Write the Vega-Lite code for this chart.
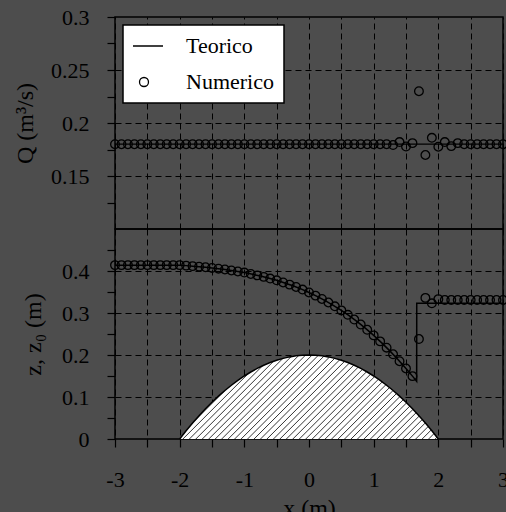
{
  "$schema": "https://vega.github.io/schema/vega-lite/v6.json",
  "background": "#4d4d4d",
  "padding": {"left": 12, "top": 5, "right": 0, "bottom": 0},
  "spacing": 0,
  "bounds": "flush",
  "config": {
    "font": "Liberation Serif",
    "view": {"stroke": "black", "strokeWidth": 1.5},
    "axis": {
      "domain": false,
      "tickColor": "black",
      "tickSize": 8,
      "tickWidth": 1.2,
      "labelColor": "black",
      "labelFont": "Liberation Serif",
      "labelFontSize": 22,
      "labelPadding": 18,
      "labelFlush": false,
      "labelOverlap": false,
      "titleColor": "black",
      "titleFont": "Liberation Serif",
      "titleFontSize": 24,
      "titleFontWeight": "normal",
      "gridColor": "black",
      "gridDash": [6, 4],
      "gridWidth": 1
    }
  },
  "datasets": {
    "qTeo": [{"x": -3, "q": 0.18}, {"x": 3, "q": 0.18}],
    "qNum": [
      {"x": -3.0, "q": 0.18}, {"x": -2.9, "q": 0.18}, {"x": -2.8, "q": 0.18}, {"x": -2.7, "q": 0.18}, {"x": -2.6, "q": 0.18},
      {"x": -2.5, "q": 0.18}, {"x": -2.4, "q": 0.18}, {"x": -2.3, "q": 0.18}, {"x": -2.2, "q": 0.18}, {"x": -2.1, "q": 0.18},
      {"x": -2.0, "q": 0.18}, {"x": -1.9, "q": 0.18}, {"x": -1.8, "q": 0.18}, {"x": -1.7, "q": 0.18}, {"x": -1.6, "q": 0.18},
      {"x": -1.5, "q": 0.18}, {"x": -1.4, "q": 0.18}, {"x": -1.3, "q": 0.18}, {"x": -1.2, "q": 0.18}, {"x": -1.1, "q": 0.18},
      {"x": -1.0, "q": 0.18}, {"x": -0.9, "q": 0.18}, {"x": -0.8, "q": 0.18}, {"x": -0.7, "q": 0.18}, {"x": -0.6, "q": 0.18},
      {"x": -0.5, "q": 0.18}, {"x": -0.4, "q": 0.18}, {"x": -0.3, "q": 0.18}, {"x": -0.2, "q": 0.18}, {"x": -0.1, "q": 0.18},
      {"x": 0.0, "q": 0.18}, {"x": 0.1, "q": 0.18}, {"x": 0.2, "q": 0.18}, {"x": 0.3, "q": 0.18}, {"x": 0.4, "q": 0.18},
      {"x": 0.5, "q": 0.18}, {"x": 0.6, "q": 0.18}, {"x": 0.7, "q": 0.18}, {"x": 0.8, "q": 0.18}, {"x": 0.9, "q": 0.18},
      {"x": 1.0, "q": 0.18}, {"x": 1.1, "q": 0.18}, {"x": 1.2, "q": 0.18}, {"x": 1.3, "q": 0.1792}, {"x": 1.4, "q": 0.182},
      {"x": 1.5, "q": 0.1778}, {"x": 1.6, "q": 0.181}, {"x": 1.7, "q": 0.230}, {"x": 1.8, "q": 0.1698}, {"x": 1.9, "q": 0.186},
      {"x": 2.0, "q": 0.1776}, {"x": 2.1, "q": 0.182}, {"x": 2.2, "q": 0.1782}, {"x": 2.3, "q": 0.181}, {"x": 2.4, "q": 0.18},
      {"x": 2.5, "q": 0.18}, {"x": 2.6, "q": 0.18}, {"x": 2.7, "q": 0.18}, {"x": 2.8, "q": 0.18}, {"x": 2.9, "q": 0.18},
      {"x": 3.0, "q": 0.18}
    ],
    "bed": [
      {"x": -2.0, "z": 0}, {"x": -1.9, "z": 0.0195}, {"x": -1.8, "z": 0.038}, {"x": -1.7, "z": 0.0555}, {"x": -1.6, "z": 0.072},
      {"x": -1.5, "z": 0.0875}, {"x": -1.4, "z": 0.102}, {"x": -1.3, "z": 0.1155}, {"x": -1.2, "z": 0.128}, {"x": -1.1, "z": 0.1395},
      {"x": -1.0, "z": 0.15}, {"x": -0.9, "z": 0.1595}, {"x": -0.8, "z": 0.168}, {"x": -0.7, "z": 0.1755}, {"x": -0.6, "z": 0.182},
      {"x": -0.5, "z": 0.1875}, {"x": -0.4, "z": 0.192}, {"x": -0.3, "z": 0.1955}, {"x": -0.2, "z": 0.198}, {"x": -0.1, "z": 0.1995},
      {"x": 0.0, "z": 0.2},
      {"x": 0.1, "z": 0.1995}, {"x": 0.2, "z": 0.198}, {"x": 0.3, "z": 0.1955}, {"x": 0.4, "z": 0.192}, {"x": 0.5, "z": 0.1875},
      {"x": 0.6, "z": 0.182}, {"x": 0.7, "z": 0.1755}, {"x": 0.8, "z": 0.168}, {"x": 0.9, "z": 0.1595}, {"x": 1.0, "z": 0.15},
      {"x": 1.1, "z": 0.1395}, {"x": 1.2, "z": 0.128}, {"x": 1.3, "z": 0.1155}, {"x": 1.4, "z": 0.102}, {"x": 1.5, "z": 0.0875},
      {"x": 1.6, "z": 0.072}, {"x": 1.7, "z": 0.0555}, {"x": 1.8, "z": 0.038}, {"x": 1.9, "z": 0.0195}, {"x": 2.0, "z": 0}
    ],
    "hatch": [
      {"x": -1.78, "z": 0.0416, "xe": -1.30, "ze": 0.1155},
      {"x": -1.95, "z": 0, "xe": -0.9354, "ze": 0.1563},
      {"x": -1.85, "z": 0, "xe": -0.7193, "ze": 0.1741},
      {"x": -1.75, "z": 0, "xe": -0.5492, "ze": 0.1849},
      {"x": -1.65, "z": 0, "xe": -0.4044, "ze": 0.1918},
      {"x": -1.55, "z": 0, "xe": -0.2760, "ze": 0.1962},
      {"x": -1.45, "z": 0, "xe": -0.1596, "ze": 0.1987},
      {"x": -1.35, "z": 0, "xe": -0.0522, "ze": 0.1999},
      {"x": -1.25, "z": 0, "xe": 0.0480, "ze": 0.1999},
      {"x": -1.15, "z": 0, "xe": 0.1421, "ze": 0.1990},
      {"x": -1.05, "z": 0, "xe": 0.2313, "ze": 0.1973},
      {"x": -0.95, "z": 0, "xe": 0.3162, "ze": 0.1950},
      {"x": -0.85, "z": 0, "xe": 0.3974, "ze": 0.1921},
      {"x": -0.75, "z": 0, "xe": 0.4753, "ze": 0.1887},
      {"x": -0.65, "z": 0, "xe": 0.5504, "ze": 0.1849},
      {"x": -0.55, "z": 0, "xe": 0.6228, "ze": 0.1806},
      {"x": -0.45, "z": 0, "xe": 0.6929, "ze": 0.1760},
      {"x": -0.35, "z": 0, "xe": 0.7608, "ze": 0.1711},
      {"x": -0.25, "z": 0, "xe": 0.8268, "ze": 0.1658},
      {"x": -0.15, "z": 0, "xe": 0.8910, "ze": 0.1603},
      {"x": -0.05, "z": 0, "xe": 0.9535, "ze": 0.1545},
      {"x": 0.05, "z": 0, "xe": 1.0145, "ze": 0.1485},
      {"x": 0.15, "z": 0, "xe": 1.0741, "ze": 0.1423},
      {"x": 0.25, "z": 0, "xe": 1.1324, "ze": 0.1359},
      {"x": 0.35, "z": 0, "xe": 1.1894, "ze": 0.1293},
      {"x": 0.45, "z": 0, "xe": 1.2452, "ze": 0.1225},
      {"x": 0.55, "z": 0, "xe": 1.3000, "ze": 0.1155},
      {"x": 0.65, "z": 0, "xe": 1.3537, "ze": 0.1084},
      {"x": 0.75, "z": 0, "xe": 1.4064, "ze": 0.1011},
      {"x": 0.85, "z": 0, "xe": 1.4583, "ze": 0.0937},
      {"x": 0.95, "z": 0, "xe": 1.5092, "ze": 0.0861},
      {"x": 1.05, "z": 0, "xe": 1.5593, "ze": 0.0784},
      {"x": 1.15, "z": 0, "xe": 1.6086, "ze": 0.0706},
      {"x": 1.25, "z": 0, "xe": 1.6571, "ze": 0.0627},
      {"x": 1.35, "z": 0, "xe": 1.7049, "ze": 0.0547},
      {"x": 1.45, "z": 0, "xe": 1.7521, "ze": 0.0465},
      {"x": 1.55, "z": 0, "xe": 1.7985, "ze": 0.0383},
      {"x": 1.65, "z": 0, "xe": 1.8443, "ze": 0.0299},
      {"x": 1.75, "z": 0, "xe": 1.8895, "ze": 0.0215},
      {"x": 1.85, "z": 0, "xe": 1.9341, "ze": 0.0130},
      {"x": 1.95, "z": 0, "xe": 1.9782, "ze": 0.0043}
    ],
    "zTeo": [
      {"x": -3.0, "z": 0.4138}, {"x": -2.0, "z": 0.4138}, {"x": -1.9, "z": 0.4128}, {"x": -1.8, "z": 0.4116},
      {"x": -1.7, "z": 0.4103}, {"x": -1.6, "z": 0.4089}, {"x": -1.5, "z": 0.4073}, {"x": -1.4, "z": 0.4055},
      {"x": -1.3, "z": 0.4036}, {"x": -1.2, "z": 0.4013}, {"x": -1.1, "z": 0.3988}, {"x": -1.0, "z": 0.3962},
      {"x": -0.75, "z": 0.3880}, {"x": -0.5, "z": 0.3778}, {"x": -0.25, "z": 0.3650}, {"x": -0.125, "z": 0.3575},
      {"x": 0.0, "z": 0.3489}, {"x": 0.125, "z": 0.3395}, {"x": 0.25, "z": 0.3294}, {"x": 0.375, "z": 0.3183},
      {"x": 0.5, "z": 0.3062}, {"x": 0.625, "z": 0.2930}, {"x": 0.75, "z": 0.2787}, {"x": 0.875, "z": 0.2633},
      {"x": 1.0, "z": 0.2467}, {"x": 1.125, "z": 0.2288}, {"x": 1.25, "z": 0.2098}, {"x": 1.375, "z": 0.1895},
      {"x": 1.5, "z": 0.1679}, {"x": 1.6, "z": 0.1497}, {"x": 1.665, "z": 0.1374}, {"x": 1.666, "z": 0.323},
      {"x": 3.0, "z": 0.323}
    ],
    "zNum": [
      {"x": -3.0, "z": 0.414}, {"x": -2.9, "z": 0.414}, {"x": -2.8, "z": 0.414}, {"x": -2.7, "z": 0.414}, {"x": -2.6, "z": 0.414},
      {"x": -2.5, "z": 0.414}, {"x": -2.4, "z": 0.414}, {"x": -2.3, "z": 0.414}, {"x": -2.2, "z": 0.414}, {"x": -2.1, "z": 0.414},
      {"x": -2.0, "z": 0.414}, {"x": -1.9, "z": 0.4128}, {"x": -1.8, "z": 0.4116}, {"x": -1.7, "z": 0.4103}, {"x": -1.6, "z": 0.4089},
      {"x": -1.5, "z": 0.4073}, {"x": -1.4, "z": 0.4055}, {"x": -1.3, "z": 0.4036}, {"x": -1.2, "z": 0.4013}, {"x": -1.1, "z": 0.3988},
      {"x": -1.0, "z": 0.3962}, {"x": -0.9, "z": 0.3929}, {"x": -0.8, "z": 0.3896}, {"x": -0.7, "z": 0.3860}, {"x": -0.6, "z": 0.3819},
      {"x": -0.5, "z": 0.3778}, {"x": -0.4, "z": 0.3727}, {"x": -0.3, "z": 0.3676}, {"x": -0.2, "z": 0.3620}, {"x": -0.1, "z": 0.3558},
      {"x": 0.0, "z": 0.3489}, {"x": 0.1, "z": 0.3414}, {"x": 0.2, "z": 0.3334}, {"x": 0.3, "z": 0.3250}, {"x": 0.4, "z": 0.3159},
      {"x": 0.5, "z": 0.3062}, {"x": 0.6, "z": 0.2956}, {"x": 0.7, "z": 0.2844}, {"x": 0.8, "z": 0.2725}, {"x": 0.9, "z": 0.2600},
      {"x": 1.0, "z": 0.2467}, {"x": 1.1, "z": 0.2324}, {"x": 1.2, "z": 0.2174}, {"x": 1.3, "z": 0.2017}, {"x": 1.4, "z": 0.1852},
      {"x": 1.5, "z": 0.1679}, {"x": 1.6, "z": 0.1497}, {"x": 1.7, "z": 0.238}, {"x": 1.8, "z": 0.336}, {"x": 1.9, "z": 0.323},
      {"x": 2.0, "z": 0.333}, {"x": 2.1, "z": 0.331}, {"x": 2.2, "z": 0.331}, {"x": 2.3, "z": 0.331}, {"x": 2.4, "z": 0.331},
      {"x": 2.5, "z": 0.331}, {"x": 2.6, "z": 0.331}, {"x": 2.7, "z": 0.331}, {"x": 2.8, "z": 0.331}, {"x": 2.9, "z": 0.331},
      {"x": 3.0, "z": 0.331}
    ]
  },
  "vconcat": [
    {
      "width": 388,
      "height": 212,
      "encoding": {
        "x": {
          "field": "x", "type": "quantitative",
          "scale": {"domain": [-3, 3], "nice": false, "zero": false},
          "axis": {
            "orient": "top",
            "values": [-3, -2.5, -2, -1.5, -1, -0.5, 0, 0.5, 1, 1.5, 2, 2.5, 3],
            "labels": false, "ticks": false, "title": null, "grid": true
          }
        },
        "y": {
          "field": "q", "type": "quantitative",
          "scale": {"domain": [0.1, 0.3], "nice": false, "zero": false},
          "axis": {
            "values": [0.125, 0.15, 0.175, 0.2, 0.225, 0.25, 0.275, 0.3],
            "format": ".3~f",
            "labelExpr": "round(datum.value * 1000) % 50 == 0 ? datum.label : ''",
            "title": "Q (m³/s)",
            "titlePadding": 13,
            "grid": true,
            "gridOpacity": {"condition": {"test": "round(datum.value * 1000) % 50 == 0 && datum.value < 0.29", "value": 1}, "value": 0}
          }
        }
      },
      "layer": [
        {
          "data": {"name": "qTeo"},
          "mark": {"type": "line", "strokeWidth": 1.3},
          "encoding": {
            "color": {
              "datum": "Teorico", "type": "nominal",
              "scale": {"domain": ["Teorico", "Numerico"], "range": ["black", "black"]},
              "legend": {
                "title": null,
                "orient": "top-left",
                "offset": 8,
                "fillColor": "white",
                "strokeColor": "black",
                "padding": 10,
                "rowPadding": 14,
                "clipHeight": 22,
                "labelFont": "Liberation Serif",
                "labelFontSize": 22,
                "labelColor": "black",
                "labelOffset": 31,
                "symbolSize": 1444,
                "symbolStrokeWidth": 1.3,
                "symbolStrokeColor": "black",
                "encoding": {
                  "legend": {"strokeWidth": {"value": 1.5}},
                  "symbols": {
                    "shape": {"value": {"signal": "datum.value === 'Teorico' ? 'stroke' : 'circle'"}},
                    "size": {"value": {"signal": "datum.value === 'Teorico' ? 1444 : 81"}},
                    "fill": {"value": "transparent"},
                    "stroke": {"value": "black"},
                    "strokeWidth": {"value": 1.3}
                  }
                }
              }
            }
          }
        },
        {
          "data": {"name": "qNum"},
          "mark": {"type": "point", "shape": "circle", "filled": false, "size": 75, "strokeWidth": 1.3, "opacity": 1},
          "encoding": {
            "color": {"datum": "Numerico", "type": "nominal"}
          }
        }
      ]
    },
    {
      "width": 388,
      "height": 210,
      "encoding": {
        "x": {
          "field": "x", "type": "quantitative",
          "scale": {"domain": [-3, 3], "nice": false, "zero": false},
          "axis": {
            "values": [-3, -2.5, -2, -1.5, -1, -0.5, 0, 0.5, 1, 1.5, 2, 2.5, 3],
            "labelExpr": "datum.value % 1 == 0 ? (datum.value < 0 ? '-' + abs(datum.value) : '' + datum.value) : ''",
            "labelPadding": 22,
            "title": "x (m)",
            "titlePadding": 6,
            "grid": true
          }
        },
        "y": {
          "field": "z", "type": "quantitative",
          "scale": {"domain": [0, 0.5], "nice": false, "zero": false},
          "axis": {
            "values": [0, 0.05, 0.1, 0.15, 0.2, 0.25, 0.3, 0.35, 0.4, 0.45],
            "labelExpr": "round(datum.value * 100) % 10 == 0 ? '' + round(datum.value * 10) / 10 : ''",
            "title": "z, z₀ (m)",
            "titlePadding": 16,
            "grid": true,
            "gridOpacity": {"condition": {"test": "round(datum.value * 100) % 10 == 0 && datum.value > 0.05", "value": 1}, "value": 0}
          }
        }
      },
      "layer": [
        {
          "data": {"name": "bed"},
          "mark": {"type": "area", "fill": "white", "opacity": 1}
        },
        {
          "data": {"name": "hatch"},
          "mark": {"type": "rule", "stroke": "black", "strokeWidth": 0.8},
          "encoding": {
            "x2": {"field": "xe"},
            "y2": {"field": "ze"}
          }
        },
        {
          "data": {"name": "bed"},
          "mark": {"type": "line", "stroke": "black", "strokeWidth": 1.5}
        },
        {
          "data": {"name": "zTeo"},
          "mark": {"type": "line", "stroke": "black", "strokeWidth": 1.5}
        },
        {
          "data": {"name": "zNum"},
          "mark": {"type": "point", "shape": "circle", "filled": false, "size": 75, "strokeWidth": 1.3, "opacity": 1, "stroke": "black"}
        }
      ]
    }
  ]
}
